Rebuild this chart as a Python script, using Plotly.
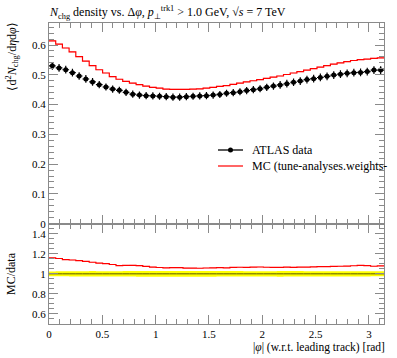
import numpy as np
import plotly.graph_objects as go

# ---- data ----
n_bins = 50
edges = np.linspace(0, np.pi, n_bins + 1)
centers = 0.5 * (edges[:-1] + edges[1:])

data_vals = [0.530, 0.523, 0.517, 0.507, 0.496, 0.486, 0.476, 0.467, 0.459, 0.452,
             0.448, 0.441, 0.435, 0.432, 0.430, 0.429, 0.428, 0.4265, 0.425, 0.425,
             0.4265, 0.428, 0.429, 0.430, 0.432, 0.434, 0.438, 0.440, 0.443, 0.447,
             0.450, 0.453, 0.458, 0.462, 0.466, 0.470, 0.475, 0.479, 0.484, 0.487,
             0.491, 0.495, 0.499, 0.502, 0.505, 0.507, 0.508, 0.511, 0.516, 0.516]
data_errs = [0.013, 0.013, 0.013, 0.013, 0.013, 0.013, 0.013, 0.012, 0.012, 0.012,
             0.012, 0.012, 0.012, 0.012, 0.012, 0.012, 0.012, 0.012, 0.012, 0.012,
             0.012, 0.012, 0.012, 0.012, 0.012, 0.012, 0.012, 0.012, 0.012, 0.012,
             0.012, 0.012, 0.012, 0.012, 0.013, 0.013, 0.013, 0.013, 0.013, 0.013,
             0.013, 0.013, 0.013, 0.013, 0.013, 0.013, 0.013, 0.013, 0.013, 0.013]
mc_vals = [0.614, 0.603, 0.590, 0.577, 0.561, 0.546, 0.531, 0.517, 0.506, 0.494,
           0.485, 0.478, 0.472, 0.467, 0.462, 0.458, 0.455, 0.452, 0.451, 0.451,
           0.451, 0.452, 0.453, 0.455, 0.458, 0.461, 0.464, 0.468, 0.472, 0.476,
           0.480, 0.484, 0.488, 0.492, 0.496, 0.501, 0.506, 0.511, 0.516, 0.521,
           0.526, 0.531, 0.536, 0.540, 0.544, 0.548, 0.551, 0.553, 0.555, 0.557]
mc_errs = [0.002] * n_bins

data = np.array(data_vals)
derr = np.array(data_errs)
mc = np.array(mc_vals)
mcerr = np.array(mc_errs)
ratio = mc / data
ratio_err = mcerr / data
band = derr / data

FONT = "Liberation Serif"
GRID = "#8a8a8a"

def step_xy(vals):
    return list(edges), list(vals) + [vals[-1]]

fig = go.Figure()

# ---- main panel ----
sx, sy_lo = step_xy(mc - mcerr)
_, sy_hi = step_xy(mc + mcerr)
fig.add_trace(go.Scatter(x=sx, y=sy_lo, mode="lines", line=dict(width=0, shape="hv"),
                         showlegend=False, hoverinfo="skip", xaxis="x2", yaxis="y2"))
fig.add_trace(go.Scatter(x=sx, y=sy_hi, mode="lines", line=dict(width=0, shape="hv"),
                         fill="tonexty", fillcolor="rgba(255,120,120,0.45)",
                         showlegend=False, hoverinfo="skip", xaxis="x2", yaxis="y2"))
_, sy = step_xy(mc)
fig.add_trace(go.Scatter(x=sx, y=sy, mode="lines", line=dict(color="#ff0000", width=1.2, shape="hv"),
                         showlegend=False, xaxis="x2", yaxis="y2"))
fig.add_trace(go.Scatter(x=centers, y=data, mode="markers",
                         marker=dict(color="black", size=5),
                         error_y=dict(type="data", array=derr, color="black", thickness=1.2, width=0),
                         error_x=dict(type="data", array=[(edges[1] - edges[0]) / 2] * n_bins,
                                      color="black", thickness=1.2, width=0),
                         showlegend=False, xaxis="x2", yaxis="y2"))

# ---- ratio panel ----
_, by_lo = step_xy(1 - band)
_, by_hi = step_xy(1 + band)
fig.add_trace(go.Scatter(x=sx, y=by_lo, mode="lines", line=dict(width=0, shape="hv"),
                         showlegend=False, hoverinfo="skip", xaxis="x", yaxis="y"))
fig.add_trace(go.Scatter(x=sx, y=by_hi, mode="lines", line=dict(width=0, shape="hv"),
                         fill="tonexty", fillcolor="#ffff00",
                         showlegend=False, hoverinfo="skip", xaxis="x", yaxis="y"))
_, one = step_xy(data / data)
fig.add_trace(go.Scatter(x=sx, y=one, mode="lines", line=dict(color="#555500", width=1, shape="hv"),
                         showlegend=False, xaxis="x", yaxis="y"))
_, ry_lo = step_xy(ratio - ratio_err)
_, ry_hi = step_xy(ratio + ratio_err)
fig.add_trace(go.Scatter(x=sx, y=ry_lo, mode="lines", line=dict(width=0, shape="hv"),
                         showlegend=False, hoverinfo="skip", xaxis="x", yaxis="y"))
fig.add_trace(go.Scatter(x=sx, y=ry_hi, mode="lines", line=dict(width=0, shape="hv"),
                         fill="tonexty", fillcolor="rgba(255,120,120,0.45)",
                         showlegend=False, hoverinfo="skip", xaxis="x", yaxis="y"))
_, ry = step_xy(ratio)
fig.add_trace(go.Scatter(x=sx, y=ry, mode="lines", line=dict(color="#ff0000", width=1.2, shape="hv"),
                         showlegend=False, xaxis="x", yaxis="y"))

axis_common = dict(showline=True, linecolor=GRID, linewidth=1, mirror="allticks",
                   ticks="inside", tickcolor=GRID, ticklen=9, tickwidth=1,
                   showgrid=False, zeroline=False,
                   tickfont=dict(family=FONT, size=11, color="black"))

fig.update_layout(
    width=397, height=358,
    margin=dict(l=49, r=13, t=23, b=34),
    paper_bgcolor="white", plot_bgcolor="white",
    showlegend=False,
    xaxis=dict(domain=[0, 1], range=[0, np.pi], anchor="y", dtick=0.5, tick0=0,
               minor=dict(dtick=0.1, ticklen=5, tickcolor=GRID, ticks="inside"),
               **axis_common),
    yaxis=dict(domain=[0, 0.3333], range=[0.5, 1.5], anchor="x", dtick=0.2, tick0=0,
               minor=dict(dtick=0.05, ticklen=5, tickcolor=GRID, ticks="inside"),
               **axis_common),
    xaxis2=dict(domain=[0, 1], range=[0, np.pi], anchor="y2", dtick=0.5, tick0=0,
                showticklabels=False, matches="x",
                minor=dict(dtick=0.1, ticklen=5, tickcolor=GRID, ticks="inside"),
                **axis_common),
    yaxis2=dict(domain=[0.3333, 1], range=[0, 0.674], anchor="x2", dtick=0.1, tick0=0,
                minor=dict(dtick=0.02, ticklen=5, tickcolor=GRID, ticks="inside"),
                **axis_common),
)

# ---- legend (manual) ----
def px(x):
    return (x - 49) / 335.0

def py(y):
    return (324 - y) / 301.0

fig.add_shape(type="line", xref="paper", yref="paper", x0=px(218), x1=px(243),
              y0=py(150), y1=py(150), line=dict(color="black", width=1.3))
fig.add_shape(type="circle", xref="paper", yref="paper", x0=px(228), x1=px(233),
              y0=py(152.5), y1=py(147.5), line=dict(color="black", width=0), fillcolor="black")
fig.add_shape(type="line", xref="paper", yref="paper", x0=px(218), x1=px(243),
              y0=py(166), y1=py(166), line=dict(color="#ff0000", width=1.2))
fig.add_annotation(xref="paper", yref="paper", x=px(250), y=py(150), xanchor="left", yanchor="middle",
                   text="ATLAS data", showarrow=False, font=dict(family=FONT, size=12, color="black"))
fig.add_annotation(xref="paper", yref="paper", x=px(250), y=py(166), xanchor="left", yanchor="middle",
                   text="MC (tune-analyses.weights-", showarrow=False,
                   font=dict(family=FONT, size=12, color="black"))

# ---- titles ----
fig.add_annotation(xref="paper", yref="paper", x=px(47), y=py(2), xanchor="left", yanchor="top",
                   text="<i>N</i><sub>chg</sub> density vs. Δ<i>φ</i>, <i>p</i><sub>⊥</sub><sup>trk1</sup> &gt; 1.0 GeV, √<i>s</i> = 7 TeV",
                   showarrow=False, font=dict(family=FONT, size=12, color="black"))
fig.add_annotation(xref="paper", yref="paper", x=px(2), y=py(21), xanchor="left", yanchor="top",
                   text="⟨d<sup>2</sup><i>N</i><sub>chg</sub>/d<i>η</i>d<i>φ</i>⟩", textangle=-90,
                   showarrow=False, font=dict(family=FONT, size=12, color="black"))
fig.add_annotation(xref="paper", yref="paper", x=px(2), y=py(274), xanchor="left", yanchor="middle",
                   text="MC/data", textangle=-90,
                   showarrow=False, font=dict(family=FONT, size=12, color="black"))
fig.add_annotation(xref="paper", yref="paper", x=px(387), y=py(356), xanchor="right", yanchor="bottom",
                   text="|<i>φ</i>| (w.r.t. leading track) [rad]",
                   showarrow=False, font=dict(family=FONT, size=11.5, color="black"))

fig.write_html("out.html", config={"displayModeBar": False},
               post_script="document.body.style.margin='0';document.body.style.padding='0';document.body.style.overflow='hidden';")
